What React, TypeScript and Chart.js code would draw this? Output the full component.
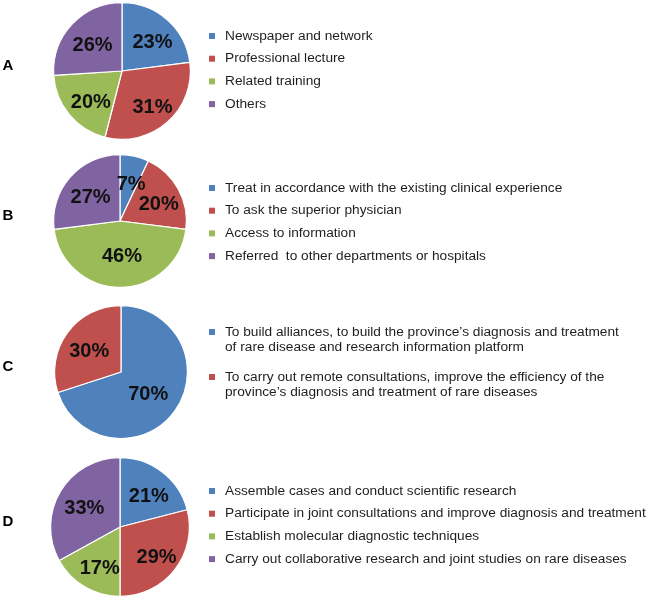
import React, { useEffect, useRef } from 'react';
import { Chart, registerables } from 'chart.js';

Chart.register(...registerables);

const COLORS = ['#4F81BD', '#C0504D', '#9BBB59', '#8064A2'];

const labelsA = ['Newspaper and network', 'Professional lecture', 'Related training', 'Others'];
const valuesA = [23, 31, 20, 26];

const labelsB = [
  'Treat in accordance with the existing clinical experience',
  'To ask the superior physician',
  'Access to information',
  'Referred  to other departments or hospitals',
];
const valuesB = [7, 20, 46, 27];

const labelsC = [
  ['To build alliances, to build the province\u2019s diagnosis and treatment', 'of rare disease and research information platform'],
  ['To carry out remote consultations, improve the efficiency of the', 'province\u2019s diagnosis and treatment of rare diseases'],
];
const valuesC = [70, 30];

const labelsD = [
  'Assemble cases and conduct scientific research',
  'Participate in joint consultations and improve diagnosis and treatment',
  'Establish molecular diagnostic techniques',
  'Carry out collaborative research and joint studies on rare diseases',
];
const valuesD = [21, 29, 17, 33];

type PanelCfg = {
  letter: string;
  labels: (string | string[])[];
  values: number[];
  top: number;
  height: number;
  cx: number;
  cy: number;
  r: number;
  legendTop: number;
  itemGap: number;
};

const W = 650;
const FONT = '"Liberation Sans", Arial, sans-serif';

const panels: PanelCfg[] = [
  { letter: 'A', labels: labelsA, values: valuesA, top: 0, height: 151, cx: 122, cy: 71, r: 69, legendTop: 36, itemGap: 22.7 },
  { letter: 'B', labels: labelsB, values: valuesB, top: 151, height: 151, cx: 120, cy: 70, r: 67, legendTop: 37, itemGap: 22.7 },
  { letter: 'C', labels: labelsC, values: valuesC, top: 302, height: 151, cx: 121, cy: 70, r: 67, legendTop: 30, itemGap: 30 },
  { letter: 'D', labels: labelsD, values: valuesD, top: 453, height: 151, cx: 120, cy: 74, r: 70, legendTop: 38, itemGap: 22.7 },
];

function makePlugin(cfg: PanelCfg) {
  return {
    id: 'panelDecor' + cfg.letter,
    afterDraw(chart: any) {
      const ctx: CanvasRenderingContext2D = chart.ctx;
      ctx.save();
      // panel letter
      ctx.fillStyle = '#000';
      ctx.font = `bold 15px ${FONT}`;
      ctx.textAlign = 'center';
      ctx.textBaseline = 'middle';
      const meta = chart.getDatasetMeta(0);
      const first = meta.data[0];
      ctx.fillText(cfg.letter, 8, first.y - 5);

      // slice percentage labels
      ctx.font = `bold 20px ${FONT}`;
      const total = cfg.values.reduce((a, b) => a + b, 0);
      meta.data.forEach((arc: any, i: number) => {
        const pct = (cfg.values[i] / total) * 100;
        const mid = (arc.startAngle + arc.endAngle) / 2;
        const f = pct >= 40 ? 0.47 : 0.63;
        const x = arc.x + Math.cos(mid) * arc.outerRadius * f + 2;
        const y = arc.y + Math.sin(mid) * arc.outerRadius * f + 4;
        ctx.fillStyle = '#111';
        ctx.fillText(`${Math.round(pct)}%`, x, y);
      });

      // legend
      ctx.font = `13.7px ${FONT}`;
      ctx.textAlign = 'left';
      let y = cfg.legendTop;
      const lineH = 15;
      cfg.labels.forEach((lab, i) => {
        const lines = Array.isArray(lab) ? lab : [lab];
        ctx.fillStyle = COLORS[i];
        ctx.fillRect(209, y - 3, 6, 6);
        ctx.fillStyle = '#1e1e1e';
        lines.forEach((ln, j) => {
          ctx.fillText(ln, 225, y + j * lineH);
        });
        y += (lines.length - 1) * lineH + cfg.itemGap;
      });
      ctx.restore();
    },
  };
}

function Panel({ cfg }: { cfg: PanelCfg }) {
  const ref = useRef<HTMLCanvasElement>(null);
  useEffect(() => {
    if (!ref.current) return;
    const flatLabels = cfg.labels.map((l) => (Array.isArray(l) ? l.join(' ') : l));
    const chart = new Chart(ref.current, {
      type: 'pie',
      data: {
        labels: flatLabels,
        datasets: [
          {
            data: cfg.values,
            backgroundColor: COLORS.slice(0, cfg.values.length),
            borderColor: '#ffffff',
            borderWidth: 1.2,
          },
        ],
      },
      options: {
        responsive: false,
        animation: false,
        events: [],
        layout: {
          padding: {
            left: cfg.cx - cfg.r,
            right: W - cfg.cx - cfg.r,
            top: cfg.cy - cfg.r,
            bottom: cfg.height - cfg.cy - cfg.r,
          },
        },
        plugins: {
          legend: { display: false },
          tooltip: { enabled: false },
        },
      },
      plugins: [makePlugin(cfg)],
    });
    return () => chart.destroy();
  }, [cfg]);
  return (
    <canvas
      ref={ref}
      width={W}
      height={cfg.height}
      style={{ position: 'absolute', left: 0, top: cfg.top, width: W, height: cfg.height }}
    />
  );
}

export default function App() {
  return (
    <div style={{ position: 'absolute', left: 0, top: 0, width: W, height: 604, background: '#fff' }}>
      {panels.map((p) => (
        <Panel key={p.letter} cfg={p} />
      ))}
    </div>
  );
}
